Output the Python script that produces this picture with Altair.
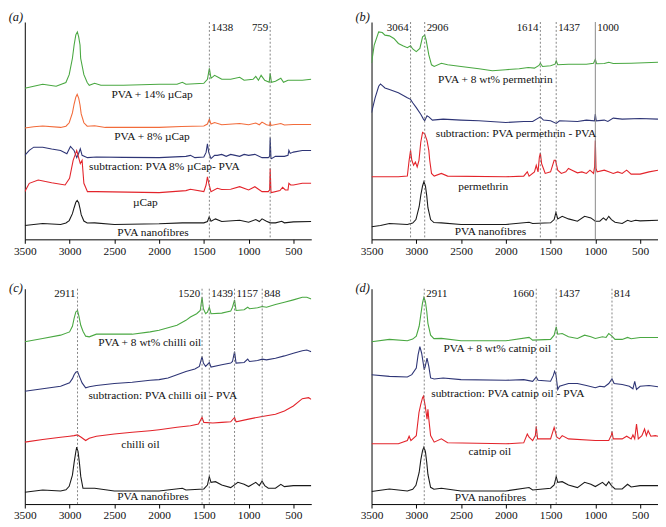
import altair as alt
import pandas as pd

FONT = "Liberation Serif"
W = 290
H_TOP = 220
H_BOT = 218

GREEN = "#4aa842"
ORANGE = "#f26b3a"
NAVY = "#2e3576"
RED = "#e3242b"
BLACK = "#1a1a1a"

# ---------------- panel (a) ----------------
A_GREEN = [(3500,153),(3400,155),(3300,157),(3150,155),(3041,158.7),(3004,166.7),(2968,183.3),(2949,196.7),(2930,207),(2913,210),(2898,205),(2883,196.7),(2876,183.3),(2840,166.7),(2803,158.7),(2780,156),(2720,158),(2650,156),(2400,156),(2000,157),(1800,157),(1740,159),(1700,157),(1500,158),(1460,162),(1438,173),(1420,163),(1380,166),(1340,164),(1300,162),(1200,162),(1100,164),(1050,161),(950,162),(920,165),(890,161),(860,166),(820,161),(770,159),(759,168),(745,159),(700,160),(640,163),(610,159),(560,161),(500,161),(400,161),(300,162)]
A_ORANGE = [(3500,112.7),(3400,114),(3300,114.7),(3100,113.3),(3040,114.5),(3004,118),(2968,128),(2949,137),(2930,144),(2915,146.7),(2898,143),(2883,136),(2870,127),(2840,118),(2803,114.5),(2720,115),(2600,113.3),(2000,113.3),(1750,114.3),(1500,114.7),(1460,116.7),(1438,121.7),(1420,116.7),(1380,118.3),(1300,116),(1100,117.3),(1000,116),(920,117.7),(880,116),(850,118.7),(800,116),(765,115.3),(759,118.7),(750,115.3),(640,117.3),(600,115.7),(500,116.3),(300,116.3)]
A_NAVY = [(3500,85),(3450,90),(3400,93.3),(3300,93.3),(3200,91.5),(3100,90),(3030,86.7),(2990,94),(2950,90),(2920,82.7),(2900,86.7),(2880,91.7),(2860,85),(2800,82.7),(2700,83.3),(2400,83),(2000,82.7),(1700,84),(1650,85),(1600,82.7),(1500,83.3),(1475,88),(1460,96.7),(1445,88),(1420,81.7),(1380,85),(1350,85),(1300,86),(1250,84),(1200,86),(1150,85),(1100,84),(1050,86),(1000,85),(930,86),(850,82.7),(780,82.7),(765,84),(759,103),(750,82),(745,81.7),(700,84),(600,84),(560,85),(550,90),(535,87),(500,88.3),(400,90),(300,90)]
A_RED = [(3500,48.3),(3450,56.7),(3350,60),(3200,57.3),(3050,55),(3000,61.7),(2960,80),(2920,90),(2900,83.3),(2880,76.7),(2860,80),(2840,56.7),(2800,48.3),(2700,48.3),(2000,47.3),(1700,49.3),(1650,50.7),(1500,48.3),(1475,55),(1460,63.3),(1440,55),(1420,48.3),(1350,51.7),(1300,50.5),(1200,50.7),(1100,53.3),(1000,50),(930,53.3),(850,48.3),(780,48.3),(765,50),(759,71.7),(750,48),(745,47.3),(650,49.3),(620,52.7),(590,50),(560,50),(550,56.7),(530,55),(500,55),(400,56.7),(300,56.7)]
A_BLACK = [(3500,14),(3300,16),(3100,15),(3040,16.5),(3004,19),(2968,26),(2949,32),(2930,37.5),(2915,39.3),(2898,37),(2883,31),(2870,25),(2840,18.5),(2803,16.5),(2720,16.7),(2500,15),(2000,15.7),(1740,16.7),(1500,16.7),(1460,18),(1440,22.7),(1420,18.3),(1370,20.7),(1300,18),(1100,19.3),(1000,17.3),(920,20),(880,18),(850,20.7),(800,18.3),(759,16.7),(700,16.7),(630,18.3),(600,16.7),(500,17.7),(300,18)]
A_LABELS = [("PVA + 14% µCap", 2079, 146), ("PVA + 8% µCap", 2079, 103.3), ("subtraction: PVA 8% µCap- PVA", 1940, 72.7), ("µCap", 2153, 36.7), ("PVA nanofibres", 2068, 6.7)]
A_PEAKS = [(1438, "left", False), (759, "right", False)]

# ---------------- panel (b) ----------------
B_GREEN = [(3500,178.3),(3470,196.7),(3420,210),(3380,209.3),(3350,206.7),(3300,206),(3250,203.3),(3200,198.3),(3150,196),(3100,194),(3064,196),(3040,192.7),(3000,190),(2960,193.3),(2930,205),(2906,206.7),(2890,201.7),(2860,186.7),(2830,176.7),(2800,175),(2720,178.3),(2650,176.7),(2500,175),(2300,172.7),(2150,170.7),(2000,171.7),(1850,172.7),(1750,174),(1680,173.3),(1630,176),(1614,178.3),(1590,175),(1500,175.7),(1450,177.3),(1437,180.7),(1420,176.7),(1300,177.3),(1100,177.3),(1020,178.3),(1000,182.3),(985,177.7),(900,178),(850,179.3),(800,178),(600,178.3),(300,179.3)]
B_NAVY = [(3500,128.3),(3460,143.3),(3420,155),(3400,157.3),(3350,153.3),(3300,151.7),(3200,148.3),(3100,143.3),(3064,141.7),(3040,138.3),(3000,133.3),(2950,126.7),(2920,121.7),(2906,120),(2880,125),(2860,124),(2820,120.7),(2700,121.7),(2500,120.7),(2300,120),(2000,118.3),(1800,119.3),(1700,119.3),(1614,124),(1580,120.7),(1500,120),(1437,117.3),(1400,120),(1200,119.3),(1100,120.7),(1010,120),(1000,126.7),(990,120),(900,120.7),(860,119.3),(800,122.7),(700,121.7),(500,122.3),(300,121.7)]
B_RED = [(3500,63.3),(3200,63.3),(3100,64),(3080,80),(3064,90),(3050,80),(3030,75),(3010,78.3),(2990,73.3),(2970,80),(2950,98.3),(2930,108.3),(2906,106.7),(2880,100),(2860,90),(2850,80),(2830,66.7),(2800,64),(2720,66.7),(2650,64),(2000,63.3),(1800,64),(1760,68.3),(1740,64),(1680,68.3),(1660,75),(1640,68.3),(1625,83.3),(1614,87.3),(1600,76.7),(1580,71.7),(1560,66.7),(1500,68.3),(1460,80),(1445,80),(1420,70),(1380,66.7),(1330,68.3),(1300,71.7),(1260,70),(1200,67.3),(1150,68.3),(1100,66.7),(1060,70),(1020,66.7),(1008,73.3),(1000,100),(992,71.7),(980,68.3),(900,70),(850,68.3),(800,66.7),(750,68.3),(700,66.7),(650,70),(600,66),(500,66),(400,68.3),(300,70)]
B_BLACK = [(3500,12.7),(3400,14),(3300,16),(3100,15),(3040,16.5),(3004,20),(2968,33),(2949,45),(2930,54),(2915,58.3),(2898,54),(2883,44),(2870,32),(2840,20),(2803,17),(2720,16.7),(2500,15),(2000,15),(1740,17.3),(1700,16),(1500,16.7),(1460,20),(1440,27.3),(1420,20.7),(1370,23.3),(1300,20.7),(1200,18.3),(1120,23.3),(1050,21.7),(1000,18.3),(950,18.3),(910,21.7),(880,19.3),(850,23.3),(820,20),(780,17.3),(700,16),(640,19.3),(600,18),(550,19.3),(500,18.7),(300,19.3)]
B_LABELS = [("PVA + 8 wt% permethrin", 2117, 161.7), ("subtraction: PVA permethrin - PVA", 1886, 106.7), ("permethrin", 2252, 52.7), ("PVA nanofibres", 2172, 7.3)]
B_PEAKS = [(3064, "right", False), (2906, "left", False), (1614, "right", False), (1437, "left", False), (1000, "left", True)]

# ---------------- panel (c) ----------------
C_GREEN = [(3500,164.3),(3300,167.7),(3100,171),(3000,174.3),(2968,180),(2949,188),(2930,194.5),(2911,196),(2895,190),(2875,181),(2850,175),(2820,170),(2780,169.3),(2700,172),(2500,172),(2300,172),(2100,174.3),(2000,176),(1800,181),(1700,186),(1650,189.3),(1580,192.7),(1540,196),(1520,209.3),(1505,197.7),(1480,192.7),(1460,194.3),(1439,199.3),(1420,192.7),(1300,193.3),(1200,195.3),(1180,199.3),(1157,206.7),(1140,196),(1050,196.7),(1010,199.3),(990,197.7),(900,198.7),(848,200),(800,199.3),(700,202),(600,204.3),(500,206.7),(400,209.3),(350,209.3),(300,207.7)]
C_NAVY = [(3500,114.3),(3300,116.7),(3100,119.3),(3000,122.7),(2968,127),(2949,131),(2930,133.5),(2911,134.3),(2890,129.3),(2860,122.7),(2820,117.7),(2780,118.7),(2700,120),(2500,122),(2300,123.3),(2100,125.3),(2000,126),(1900,127.7),(1800,131),(1700,134.3),(1600,136.7),(1550,139.3),(1520,149.3),(1505,142.7),(1480,139.3),(1439,143.3),(1420,138.7),(1300,141),(1200,142.7),(1180,144.3),(1157,154.3),(1140,142.7),(1050,143.3),(1010,146.7),(990,144.3),(900,145.3),(848,146.7),(800,146),(700,147.7),(600,150),(500,152.7),(400,155.3),(350,156),(300,154.3)]
C_RED = [(3500,62.7),(3300,65.3),(3100,67.7),(3000,68.7),(2950,69.3),(2911,70),(2870,67.7),(2820,64.3),(2780,66.7),(2700,68.7),(2500,71),(2300,72.7),(2100,74.3),(2000,75.3),(1800,77.7),(1650,79.3),(1560,81),(1520,87.7),(1500,82.7),(1400,82),(1300,82.7),(1200,83.3),(1157,87.7),(1140,83.3),(1000,86),(848,88.7),(700,91),(600,94.3),(500,99.3),(400,106.7),(330,107.7),(300,106)]
C_BLACK = [(3500,12),(3300,14.3),(3100,13.3),(3040,14.5),(3004,18),(2968,29.3),(2949,42),(2930,53),(2920,57.7),(2905,53),(2890,42),(2875,28),(2850,16),(2720,16),(2500,13.3),(2000,13.3),(1740,16),(1700,14.3),(1500,15.3),(1460,19.3),(1439,27.7),(1420,22),(1370,22.7),(1300,19.3),(1200,16.7),(1120,22),(1050,20),(1000,17.7),(920,22),(880,18.7),(850,23.3),(820,18.7),(780,16),(700,16),(640,20),(600,17.7),(500,18.7),(300,18.7)]
C_LABELS = [("PVA + 8 wt% chilli oil", 2105, 162.7), ("subtraction: PVA chilli oil - PVA", 1958, 109.3), ("chilli oil", 2208, 60), ("PVA nanofibres", 2068, 6.7)]
C_PEAKS = [(2911, "right", False), (1520, "right", False), (1439, "left", False), (1157, "left", False), (848, "left", False)]

# ---------------- panel (d) ----------------
D_GREEN = [(3500,164.3),(3300,166.7),(3100,165.3),(3040,167),(3000,170),(2968,180),(2949,192),(2930,204),(2915,209.3),(2898,205),(2883,195),(2870,183),(2840,171),(2803,167.5),(2720,167.7),(2500,165.3),(2000,165.3),(1740,168.7),(1700,166),(1500,166.7),(1460,171),(1437,179.3),(1420,172),(1370,172.7),(1300,169.3),(1200,167.7),(1120,171),(1050,169.3),(1000,167.7),(920,169.3),(880,168.7),(850,172.7),(814,170),(780,166.7),(700,166.7),(640,168.7),(600,167.3),(500,168.7),(300,168.7)]
D_NAVY = [(3500,131),(3300,129.3),(3100,128.7),(3050,131),(3000,137.7),(2980,151),(2960,159.3),(2940,152.7),(2911,136),(2900,139.3),(2880,147.7),(2860,139.3),(2840,127.7),(2800,126.7),(2700,127.7),(2500,126),(2000,125.3),(1800,126),(1700,124.3),(1660,128.7),(1640,125.3),(1500,124.3),(1470,130),(1455,134.3),(1440,131),(1420,116),(1400,119.3),(1300,122),(1200,122),(1100,120),(1000,117.7),(950,119.3),(900,118.7),(850,122),(814,126.7),(790,122),(700,121),(620,119.3),(580,116.7),(560,124.3),(540,116),(500,119.3),(400,120),(300,118.7)]
D_RED = [(3500,61),(3200,61),(3100,64.3),(3080,68.7),(3060,64.3),(3000,69.3),(2970,92.7),(2950,101),(2930,107.7),(2920,109.3),(2900,99.3),(2880,86),(2870,96),(2860,86),(2840,69.3),(2800,62.7),(2720,66),(2650,62),(2000,61),(1800,62),(1760,71),(1740,67.7),(1700,64.3),(1670,69.3),(1660,78.7),(1645,66),(1500,66),(1460,77.7),(1430,67.7),(1400,66),(1370,69.3),(1300,66),(1000,64.3),(850,64.3),(820,70),(814,73.3),(800,66),(700,66),(650,68.7),(600,66),(580,70),(560,66),(540,81),(520,66),(480,69.3),(450,76),(430,69.3),(410,74.3),(380,68.7),(330,69.3),(300,68.7)]
D_BLACK = [(3500,12.7),(3300,15.3),(3100,13.3),(3040,15),(3004,19),(2968,32),(2949,45),(2930,54),(2915,57.7),(2898,53),(2883,42),(2870,30),(2840,17),(2803,15),(2720,16),(2500,13.3),(2000,13.3),(1740,16.7),(1700,14.3),(1500,16),(1460,19.3),(1437,27.7),(1420,22),(1370,22.7),(1300,19.3),(1200,16.7),(1120,22),(1050,20),(1000,17.7),(920,22),(880,18.7),(850,22.7),(820,18.7),(780,15.3),(700,15.3),(640,20),(600,17.3),(500,18.7),(300,18.7)]
D_LABELS = [("PVA + 8 wt% catnip oil", 2095, 156.7), ("subtraction: PVA catnip oil - PVA", 1977, 111), ("catnip oil", 2178, 52.7), ("PVA nanofibres", 2172, 6)]
D_PEAKS = [(2911, "left", False), (1660, "right", False), (1437, "left", False), (814, "left", False)]

TICKS = [3500, 3250, 3000, 2750, 2500, 2250, 2000, 1750, 1500, 1250, 1000, 750, 500]


def panel(tag, traces, labels, peaks, height, label_y, tag_y):
    rows = []
    for i, (name, color, pts) in enumerate(traces):
        for wn, v in pts:
            rows.append({"series": f"{i}-{name}", "col": color, "wn": wn, "a": v})
    df = pd.DataFrame(rows)
    xs = alt.Scale(domain=[300, 3500], reverse=True, nice=False, zero=False)
    ys = alt.Scale(domain=[0, height], nice=False, zero=False)
    x = alt.X("wn:Q", scale=xs, axis=alt.Axis(
        values=TICKS, labelExpr="datum.value % 500 == 0 ? datum.label : ''",
        format="d", title=None, grid=False, tickSize=4, tickColor="#000",
        domainColor="#000", labelFont=FONT, labelFontSize=11.5, labelColor="#111",
        labelPadding=2, labelFlush=False, labelOverlap=False))
    y = alt.Y("a:Q", scale=ys, axis=alt.Axis(title=None, labels=False, ticks=False,
                                               grid=False, domainColor="#000"))
    lines = alt.Chart(df).mark_line(strokeWidth=1.1, clip=True).encode(
        x=x, y=y,
        color=alt.Color("col:N", scale=None),
        detail="series:N",
    )
    pk = pd.DataFrame([{"wn": w, "align": al, "solid": s, "txt": str(w)} for w, al, s in peaks])
    base = alt.Chart(pk)
    dashed = base.transform_filter("!datum.solid").mark_rule(
        strokeDash=[2, 2], color="#777", strokeWidth=0.9).encode(
        x=alt.X("wn:Q"), y=alt.value(0), y2=alt.value(height))
    layers = [lines, dashed]
    if pk["solid"].any():
        layers.append(base.transform_filter("datum.solid").mark_rule(
            color="#888", strokeWidth=1).encode(
            x=alt.X("wn:Q"), y=alt.value(0), y2=alt.value(height)))
    tl = base.transform_filter("datum.align == 'left'").mark_text(
        align="left", baseline="middle", dx=2, font=FONT, fontSize=11, color="#111").encode(
        x=alt.X("wn:Q"), y=alt.value(label_y), text="txt:N")
    tr = base.transform_filter("datum.align == 'right'").mark_text(
        align="right", baseline="middle", dx=-2, font=FONT, fontSize=11, color="#111").encode(
        x=alt.X("wn:Q"), y=alt.value(label_y), text="txt:N")
    lab = pd.DataFrame([{"label": t, "wn": w, "a": v} for t, w, v in labels])
    labs = alt.Chart(lab).mark_text(font=FONT, fontSize=11.5, color="#111",
                                     baseline="middle", align="center").encode(
        x=alt.X("wn:Q"), y=alt.Y("a:Q"), text="label:N")
    tg = alt.Chart(pd.DataFrame({"t": [tag]})).mark_text(
        font=FONT, fontSize=12.5, fontStyle="italic", color="#111",
        align="center", baseline="middle").encode(
        x=alt.value(-9), y=alt.value(tag_y), text="t:N")
    return alt.layer(*layers, tl, tr, labs, tg).properties(width=W, height=height)


pa = panel("(a)", [("PVA + 14% µCap", GREEN, A_GREEN), ("PVA + 8% µCap", ORANGE, A_ORANGE),
                   ("subtraction", NAVY, A_NAVY), ("µCap", RED, A_RED), ("PVA", BLACK, A_BLACK)],
           A_LABELS, A_PEAKS, H_TOP, 6, -5)
pb = panel("(b)", [("PVA + 8 wt% permethrin", GREEN, B_GREEN), ("subtraction", NAVY, B_NAVY),
                   ("permethrin", RED, B_RED), ("PVA", BLACK, B_BLACK)],
           B_LABELS, B_PEAKS, H_TOP, 6, -5)
pc = panel("(c)", [("PVA + 8 wt% chilli oil", GREEN, C_GREEN), ("subtraction", NAVY, C_NAVY),
                   ("chilli oil", RED, C_RED), ("PVA", BLACK, C_BLACK)],
           C_LABELS, C_PEAKS, H_BOT, 5, -1)
pd_ = panel("(d)", [("PVA + 8 wt% catnip oil", GREEN, D_GREEN), ("subtraction", NAVY, D_NAVY),
                    ("catnip oil", RED, D_RED), ("PVA", BLACK, D_BLACK)],
            D_LABELS, D_PEAKS, H_BOT, 5, -1)

chart = alt.vconcat(
    alt.hconcat(pa, pb, spacing=44),
    alt.hconcat(pc, pd_, spacing=44),
    spacing=25,
).properties(
    padding={"left": 0, "top": 0, "right": 0, "bottom": 0}
).configure_view(stroke=None).configure_axis(domainWidth=1, tickWidth=1)

chart.save("out.html", embed_options={"renderer": "svg", "actions": False})
